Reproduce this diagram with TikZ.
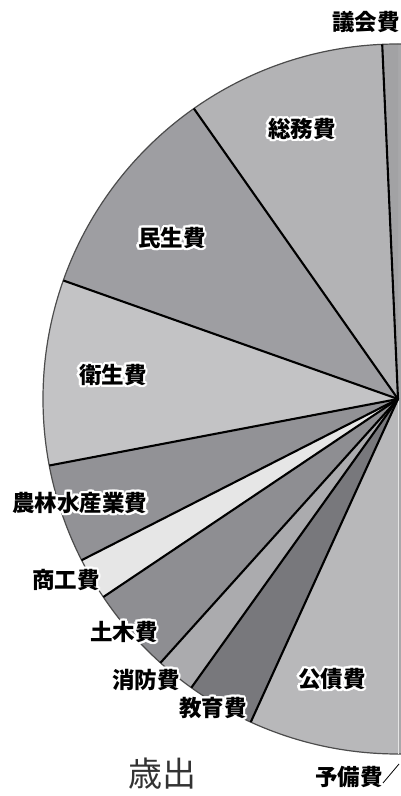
\documentclass[tikz,border=0pt]{standalone}
\usepackage{fontspec}
\setmainfont{Noto Sans CJK JP}
\definecolor{cgikai}{HTML}{A2A2A4}
\definecolor{csomu}{HTML}{B3B3B5}
\definecolor{cminsei}{HTML}{9E9EA2}
\definecolor{ceisei}{HTML}{C3C3C5}
\definecolor{cnorin}{HTML}{929296}
\definecolor{cshoko}{HTML}{E6E6E6}
\definecolor{cdoboku}{HTML}{8E8E92}
\definecolor{cshobo}{HTML}{ABABAE}
\definecolor{ckyoiku}{HTML}{78787C}
\definecolor{ckosai}{HTML}{B8B8BA}
\definecolor{crest}{HTML}{A8A8AA}
\definecolor{ctitle}{HTML}{333333}
\tikzset{
  lbl/.style={inner sep=0pt, font=\bfseries\fontsize{22.5}{25}\selectfont},
  halotext/.style={lbl, text=white},
  spoke/.style={draw=black, line width=2.1pt},
  rim/.style={draw=black!70, line width=1.2pt},
}
% name, position, text
\newcommand\halolabel[3]{%
  \foreach \ang [count=\i] in {0,22.5,...,337.5}{%
    \node[halotext, xshift={2.3*cos(\ang)}, yshift={2.3*sin(\ang)}] (#1-h\i) at (#2) {#3};
  }%
  \node[lbl] (#1) at (#2) {#3};%
}
\begin{document}
\begin{tikzpicture}[x=1pt,y=1pt]
\useasboundingbox (0,0) rectangle (401,796);
\fill[white] (0,0) rectangle (401,796);
\begin{scope}
\clip (0,0) rectangle (401,796);
\coordinate (C) at (398,397);
\def\R{355}
% base disc
\fill[crest] (C) circle[radius=\R];
% slices
\foreach \a/\b/\c in {90/92.55/cgikai, 92.55/125.1/csomu, 125.1/160.5/cminsei,
  160.5/190.8/ceisei, 190.8/207/cnorin, 207/213.9/cshoko, 213.9/228/cdoboku,
  228/234.4/cshobo, 234.4/245.5/ckyoiku, 245.5/270/ckosai}{
  \fill[\c] (C) -- ++(\a:\R) arc[start angle=\a, end angle=\b, radius=\R] -- cycle;
}
% rim
\draw[rim] (C) circle[radius=\R];
% light seam at 270
\draw[white!80!gray, line width=1pt] (C) -- ++(270:\R);
% spokes
\foreach \a in {92.55,125.1,160.5,190.8,207,213.9,228,234.4,245.5}{
  \draw[spoke] (C) -- ++(\a:\R);
}
\end{scope}
% labels
\halolabel{gikai}{366,774}{議会費}
\halolabel{somu}{302,667}{総務費}
\halolabel{minsei}{172,558}{民生費}
\halolabel{eisei}{113,421}{衛生費}
\halolabel{norin}{80,293}{農林水産業費}
\halolabel{shoko}{66,216}{商工費}
\halolabel{doboku}{124,164}{土木費}
\halolabel{shobo}{146,116}{消防費}
\halolabel{kyoiku}{213,88}{教育費}
\halolabel{kosai}{332,117}{公債費}
\halolabel{yobi}{349,19}{予備費}
\coordinate (yb1) at (383,13);
\coordinate (yb2) at (399,32);
\draw[black, line width=0.8pt] (yb1) -- (yb2);
\node[inner sep=0pt, text=ctitle, font=\fontsize{34}{36}\selectfont] (title) at (162,22) {歳出};
\end{tikzpicture}
\end{document}
